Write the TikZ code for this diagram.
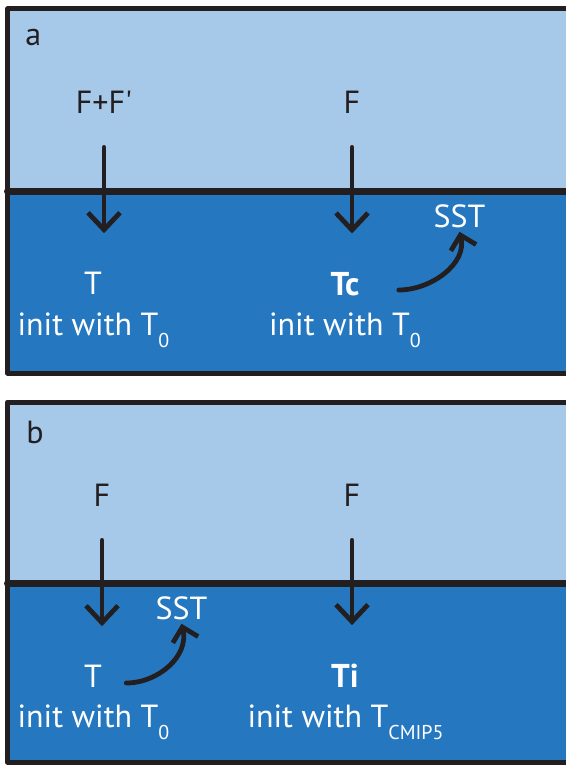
\documentclass[tikz,border=0pt]{standalone}
\usepackage{fontspec}
\setmainfont{PT Sans}
\usetikzlibrary{arrows.meta}
\definecolor{skyBlue}{HTML}{A6C8E9}
\definecolor{seaBlue}{HTML}{2578C0}
\definecolor{inkBlack}{HTML}{231F20}
\newcommand{\lowsub}[1]{\raisebox{-6pt}{\fontsize{10}{10}\selectfont #1}}

\begin{document}
\begin{tikzpicture}[x=0.5pt, y=-0.5pt, line cap=round, line join=round,
    lbl/.style={inner sep=0pt, anchor=base, font=\fontsize{16}{19}\selectfont},
    sst/.style={lbl, inner sep=2pt, text=white},
    flux/.style={inkBlack, line width=2.4pt, -{Straight Barb[length=8.5pt, width=16pt]}, shorten <=17pt, shorten >=19pt},
    swirl/.style={inkBlack, line width=2.4pt, -{Straight Barb[length=6.5pt, width=13pt]}}]
    \useasboundingbox (0,0) rectangle (566,765);
    \clip (0,0) rectangle (566,765);
    \fill[white] (0,0) rectangle (566,765);
    % panel a
    \fill[skyBlue] (7.5,9) rectangle (600,191);
    \fill[seaBlue] (7.5,191) rectangle (600,373);
    \draw[inkBlack, line width=3.5pt] (7.5,191) -- (600,191);
    \draw[inkBlack, line width=2.5pt] (7.5,9) rectangle (600,373);
    \node[lbl, anchor=base west, text=inkBlack] (pa) at (25,46) {a};
    \node[lbl, text=inkBlack] (fA) at (104,113) {F+F\textquotesingle};
    \node[lbl, text=inkBlack] (fB) at (352,113) {F};
    \node[lbl, text=white] (tA) at (93,294) {T};
    \node[lbl, text=white] (iA) at (93.5,335) {init with T\lowsub{0}};
    \node[lbl, text=white, font=\fontsize{16.5}{19}\selectfont\bfseries] (tcA) at (345,295) {Tc};
    \node[lbl, text=white] (iB) at (345,335) {init with T\lowsub{0}};
    \node[sst] (sstA) at (459.5,227) {SST};
    \draw[flux] (fA.south) -- (fA.south |- tA.north);
    \draw[flux] (fB.south) -- (fB.south |- tcA.north);
    \draw[swirl] (tcA.base east) ++(39,-5) .. controls +(32,0) and +(8,32) .. (sstA.south);
    % panel b
    \fill[skyBlue] (7.5,402) rectangle (600,583.5);
    \fill[seaBlue] (7.5,583.5) rectangle (600,762);
    \draw[inkBlack, line width=3.5pt] (7.5,583.5) -- (600,583.5);
    \draw[inkBlack, line width=2.5pt] (7.5,402) rectangle (600,762);
    \node[lbl, anchor=base west, text=inkBlack] (pb) at (26,443) {b};
    \node[lbl, text=inkBlack] (fC) at (102,506) {F};
    \node[lbl, text=inkBlack] (fD) at (352,506) {F};
    \node[lbl, text=white] (tC) at (93,687) {T};
    \node[lbl, text=white] (iC) at (93.5,727) {init with T\lowsub{0}};
    \node[lbl, text=white, font=\fontsize{16.5}{19}\selectfont\bfseries] (tiD) at (345,687) {Ti};
    \node[lbl, text=white] (iD) at (345.5,727) {init with T\lowsub{CMIP5}};
    \node[sst] (sstB) at (181.5,619) {SST};
    \draw[flux] (fC.south) -- (fC.south |- tC.north);
    \draw[flux] (fD.south) -- (fD.south |- tiD.north);
    \draw[swirl] (tC.base east) ++(24,-4) .. controls +(32,0) and +(8,32) .. (sstB.south);
\end{tikzpicture}
\end{document}
